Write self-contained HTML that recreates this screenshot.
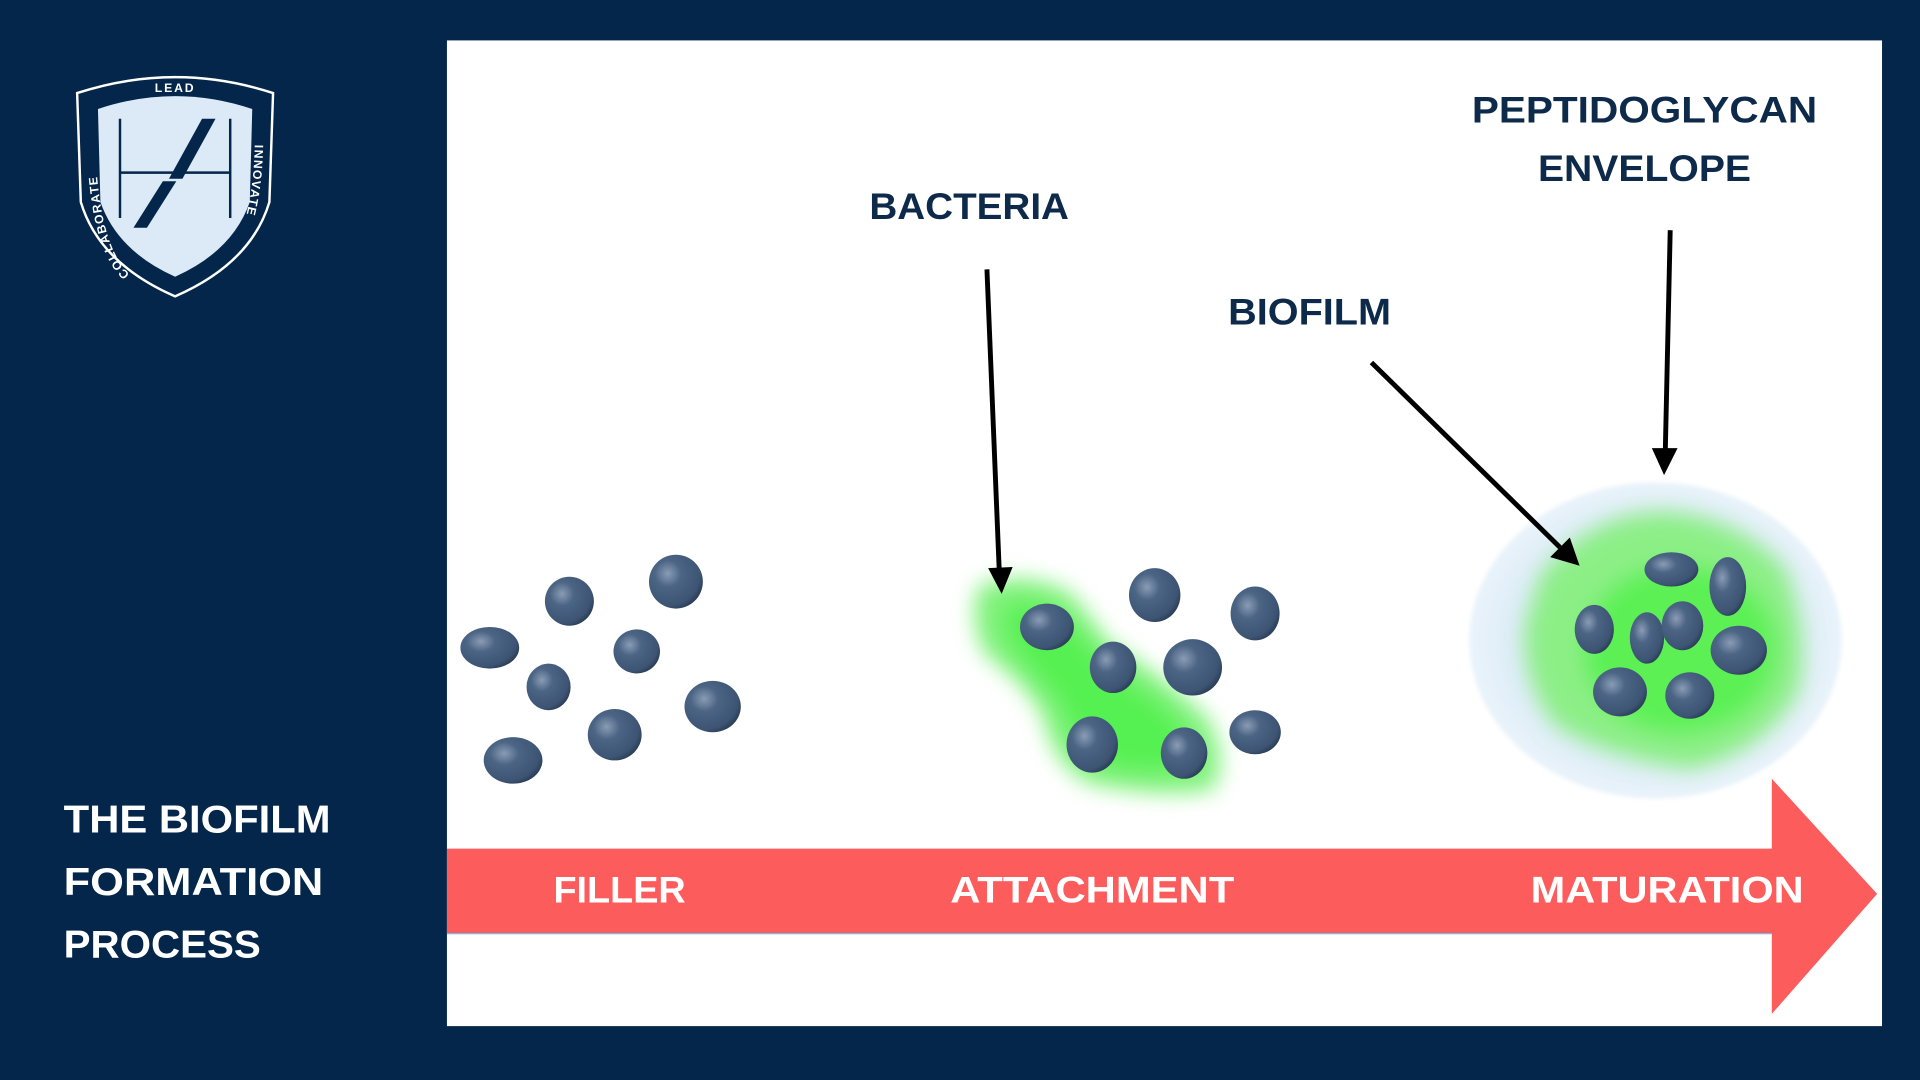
<!DOCTYPE html>
<html><head><meta charset="utf-8"><style>
html,body{margin:0;padding:0;background:#03264a;}
svg{display:block}
text{font-family:"Liberation Sans",sans-serif;font-weight:bold}
</style></head><body>
<svg width="1920" height="1080" viewBox="0 0 1568 882" xmlns="http://www.w3.org/2000/svg">
<defs>
<radialGradient id="b" cx="0.35" cy="0.35" r="0.7">
<stop offset="0" stop-color="#8a9cb5"/><stop offset="0.35" stop-color="#4c6585"/><stop offset="0.85" stop-color="#3d5473"/><stop offset="1" stop-color="#2c3f59"/>
</radialGradient>
<filter id="g8" x="-50%" y="-50%" width="200%" height="200%"><feGaussianBlur stdDeviation="9"/></filter>
<filter id="g2" x="-50%" y="-50%" width="200%" height="200%"><feGaussianBlur stdDeviation="2"/></filter>
<radialGradient id="env" cx="0.5" cy="0.5" r="0.5">
<stop offset="0.6" stop-color="#d6e8f6"/><stop offset="1" stop-color="#e9f3fa"/>
</radialGradient>
<path id="lp" d="M106 224 Q80 200 78 118"/>
<path id="rp" d="M208 118 Q207 182 183 219"/>
</defs>
<rect width="1568" height="882" fill="#03264a"/>
<rect x="365" y="33" width="1172" height="805" fill="#fff"/>

<!-- logo -->
<path d="M63 76 Q143 50 223 76 L220 165 Q205 215 143 242 Q81 215 66 165 Z" fill="#03264a" stroke="#fff" stroke-width="2"/>
<path d="M80 89 Q143 68 206 89 L204 165 Q190 205 143 226 Q96 205 82 165 Z" fill="#dce9f6"/>
<line x1="98" y1="97" x2="98" y2="178" stroke="#03264a" stroke-width="2"/>
<line x1="188" y1="97" x2="188" y2="178" stroke="#03264a" stroke-width="2"/>
<line x1="98" y1="141" x2="188" y2="141" stroke="#03264a" stroke-width="2"/>
<polygon points="165,97 176,97 149,146 138,146" fill="#03264a"/>
<polygon points="133,148 144,148 120,186 109,186" fill="#03264a"/>
<text x="143" y="75" font-size="10" fill="#fff" text-anchor="middle" font-weight="normal" letter-spacing="1.5">LEAD</text>
<text font-size="10" fill="#fff" font-weight="normal" letter-spacing="1"><textPath href="#lp">COLLABORATE</textPath></text>
<text font-size="10" fill="#fff" font-weight="normal" letter-spacing="1"><textPath href="#rp">INNOVATE</textPath></text>

<text x="52" y="680" font-size="32" fill="#fff" textLength="218" lengthAdjust="spacingAndGlyphs">THE BIOFILM</text>
<text x="52" y="731" font-size="32" fill="#fff" textLength="212" lengthAdjust="spacingAndGlyphs">FORMATION</text>
<text x="52" y="782" font-size="32" fill="#fff" textLength="161" lengthAdjust="spacingAndGlyphs">PROCESS</text>

<!-- band arrow -->
<line x1="365" y1="762" x2="1447" y2="762" stroke="#7fb6e0" stroke-width="2"/>
<polygon points="365,693 1447,693 1447,636 1533,730 1447,828 1447,762 365,762" fill="#fd5c5c"/>
<text x="452" y="737" font-size="30" fill="#fff" textLength="108" lengthAdjust="spacingAndGlyphs">FILLER</text>
<text x="776" y="737" font-size="30" fill="#fff" textLength="232" lengthAdjust="spacingAndGlyphs">ATTACHMENT</text>
<text x="1250" y="737" font-size="30" fill="#fff" textLength="223" lengthAdjust="spacingAndGlyphs">MATURATION</text>

<!-- labels -->
<text x="710" y="179" font-size="30" fill="#0d2a4a" textLength="163" lengthAdjust="spacingAndGlyphs">BACTERIA</text>
<text x="1003" y="265" font-size="30" fill="#0d2a4a" textLength="133" lengthAdjust="spacingAndGlyphs">BIOFILM</text>
<text x="1202" y="100" font-size="30" fill="#0d2a4a" textLength="282" lengthAdjust="spacingAndGlyphs">PEPTIDOGLYCAN</text>
<text x="1256" y="148" font-size="30" fill="#0d2a4a" textLength="174" lengthAdjust="spacingAndGlyphs">ENVELOPE</text>

<!-- group 1 -->
<g fill="url(#b)">
<ellipse cx="400" cy="529" rx="24" ry="17"/>
<ellipse cx="465" cy="491" rx="20" ry="20"/>
<ellipse cx="552" cy="475" rx="22" ry="22"/>
<ellipse cx="520" cy="532" rx="19" ry="18"/>
<ellipse cx="448" cy="561" rx="18" ry="19"/>
<ellipse cx="419" cy="621" rx="24" ry="19"/>
<ellipse cx="502" cy="600" rx="22" ry="21"/>
<ellipse cx="582" cy="577" rx="23" ry="21"/>
</g>

<!-- group 2 -->
<path d="M800 478 Q840 465 875 485 Q895 510 905 525 Q940 545 985 585 Q1005 620 990 645 Q950 652 890 640 Q860 625 852 585 Q835 555 805 535 Q790 505 800 478 Z" fill="#7ff27a" filter="url(#g8)"/>
<path d="M825 495 Q850 490 868 505 Q900 545 945 575 Q975 600 970 625 Q935 632 898 622 Q875 600 868 575 Q845 548 828 528 Q818 508 825 495 Z" fill="#4cf046" filter="url(#g8)" opacity="0.8"/>
<g fill="url(#b)">
<ellipse cx="855" cy="512" rx="22" ry="19"/>
<ellipse cx="943" cy="486" rx="21" ry="22"/>
<ellipse cx="1025" cy="501" rx="20" ry="22"/>
<ellipse cx="909" cy="545" rx="19" ry="21"/>
<ellipse cx="974" cy="545" rx="24" ry="23"/>
<ellipse cx="892" cy="608" rx="21" ry="23"/>
<ellipse cx="967" cy="615" rx="19" ry="21"/>
<ellipse cx="1025" cy="598" rx="21" ry="18"/>
</g>

<!-- group 3 -->
<ellipse cx="1352" cy="523" rx="152" ry="129" fill="url(#env)" filter="url(#g2)"/>
<path d="M1258 470 Q1300 418 1360 418 Q1420 422 1458 465 Q1478 520 1468 565 Q1440 615 1380 628 Q1310 618 1270 592 Q1242 555 1246 510 Z" fill="#8cef86" filter="url(#g8)"/>
<ellipse cx="1372" cy="530" rx="78" ry="68" fill="#5cf055" filter="url(#g8)"/>
<g fill="url(#b)">
<ellipse cx="1365" cy="465" rx="22" ry="14"/>
<ellipse cx="1411" cy="479" rx="15" ry="24"/>
<ellipse cx="1302" cy="514" rx="16" ry="20"/>
<ellipse cx="1345" cy="521" rx="14" ry="21"/>
<ellipse cx="1374" cy="511" rx="17" ry="20"/>
<ellipse cx="1420" cy="531" rx="23" ry="20"/>
<ellipse cx="1323" cy="565" rx="22" ry="20"/>
<ellipse cx="1380" cy="568" rx="20" ry="19"/>
</g>

<!-- arrows -->
<g stroke="#000" stroke-width="4">
<line x1="806" y1="220" x2="816" y2="465"/>
<line x1="1120" y1="296" x2="1274" y2="447"/>
<line x1="1364" y1="188" x2="1360" y2="368"/>
</g>
<polygon points="807,464 827,463 818,485" fill="#000"/>
<polygon points="1266,455 1282,439 1290,462" fill="#000"/>
<polygon points="1349,366 1370,366 1359,388" fill="#000"/>
</svg>
</body></html>
